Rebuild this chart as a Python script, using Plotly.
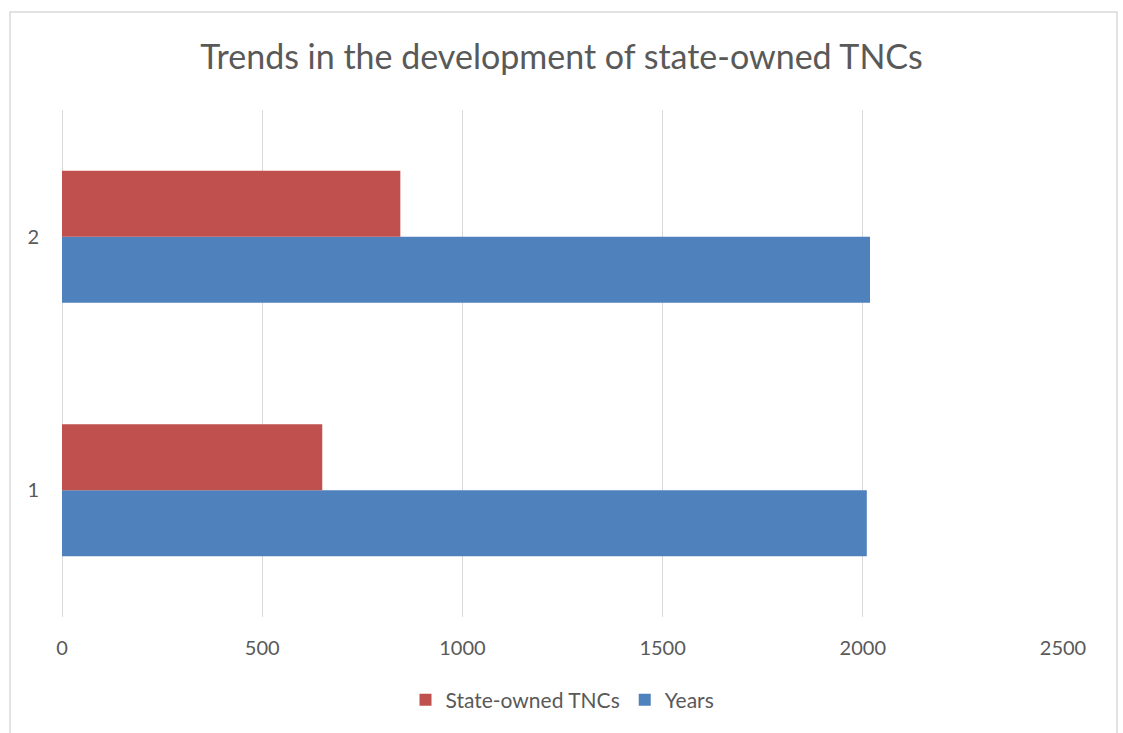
import plotly.graph_objects as go

categories = ["1", "2"]
years = [2010, 2018]
state_owned = [650, 845]
x_ticks = [0, 500, 1000, 1500, 2000, 2500]

W, H = 1123, 733
L, R, T, B = 62, 60, 110, 116

fig = go.Figure()
fig.add_trace(go.Bar(y=categories, x=years, orientation="h", name="Years",
                     marker=dict(color="#4F81BD", line=dict(width=0))))
fig.add_trace(go.Bar(y=categories, x=state_owned, orientation="h", name="State-owned TNCs",
                     marker=dict(color="#C0504D", line=dict(width=0))))

pw = W - L - R
ph = H - T - B
def px_x(p):
    return (p - L) / pw
def px_y(p):
    return (H - B - p) / ph

fig.update_layout(
    width=W, height=H,
    margin=dict(l=L, r=R, t=T, b=B),
    paper_bgcolor="white", plot_bgcolor="white",
    font=dict(family="Lato, Open Sans, sans-serif", color="#595959", size=20),
    title=dict(text="Trends in the development of state-owned TNCs",
               x=0.5, xanchor="center", y=1 - 57 / H, yanchor="middle",
               font=dict(size=34, color="#595959")),
    barmode="group", bargap=0.48, bargroupgap=0,
    showlegend=True,
    legend=dict(orientation="h", x=0.5, xanchor="center", y=px_y(700), yanchor="middle",
                traceorder="reversed", font=dict(size=21, color="#595959"),
                itemwidth=30),
    xaxis=dict(range=[0, 2500], tickvals=x_ticks, showgrid=True, gridcolor="#D9D9D9",
               gridwidth=1, zeroline=True, zerolinecolor="#D9D9D9", zerolinewidth=1,
               showline=False, ticks="outside", ticklen=13, tickcolor="rgba(0,0,0,0)",
               tickfont=dict(size=20), fixedrange=True),
    yaxis=dict(type="category", showgrid=False, zeroline=False, showline=False,
               ticks="outside", ticklen=18, tickcolor="rgba(0,0,0,0)",
               tickfont=dict(size=20)),
    shapes=[dict(type="rect", xref="paper", yref="paper",
                 x0=px_x(10), x1=px_x(1117), y0=px_y(745), y1=px_y(12),
                 line=dict(color="#D9D9D9", width=1.5), layer="below")],
)

fig.write_html("out.html")
